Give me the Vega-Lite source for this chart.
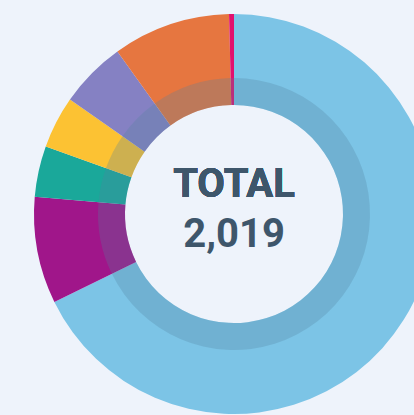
{
  "$schema": "https://vega.github.io/schema/vega-lite/v6.json",
  "width": 360,
  "height": 402,
  "autosize": "none",
  "padding": {"left": 54, "top": 13, "right": 0, "bottom": 0},
  "background": "#eef3fb",
  "config": {"view": {"stroke": null}},
  "data": {
    "values": [
      {"category": "A", "order": 1, "count": 1368},
      {"category": "B", "order": 2, "count": 174},
      {"category": "C", "order": 3, "count": 83},
      {"category": "D", "order": 4, "count": 85},
      {"category": "E", "order": 5, "count": 109},
      {"category": "F", "order": 6, "count": 192},
      {"category": "G", "order": 7, "count": 8}
    ]
  },
  "layer": [
    {
      "mark": {"type": "arc", "radius": 200, "radius2": 109},
      "encoding": {
        "theta": {"field": "count", "type": "quantitative", "stack": true},
        "order": {"field": "order", "type": "quantitative"},
        "color": {
          "field": "category",
          "type": "nominal",
          "legend": null,
          "scale": {
            "domain": ["A", "B", "C", "D", "E", "F", "G"],
            "range": ["#7cc4e6", "#a0168a", "#1aa89a", "#fcc233", "#8581c3", "#e67640", "#e2106e"]
          }
        }
      }
    },
    {
      "mark": {"type": "arc", "radius": 136, "radius2": 109, "color": "#52809f", "opacity": 0.28},
      "encoding": {
        "theta": {"field": "count", "type": "quantitative", "stack": true},
        "order": {"field": "order", "type": "quantitative"}
      }
    },
    {
      "mark": {"type": "text", "text": "TOTAL", "font": "Roboto, sans-serif", "fontWeight": "bold", "fontSize": 40, "color": "#3e566b", "baseline": "middle", "align": "center", "dy": -29},
      "encoding": {}
    },
    {
      "mark": {"type": "text", "font": "Roboto, sans-serif", "fontWeight": "bold", "fontSize": 40, "color": "#3e566b", "baseline": "middle", "align": "center", "dy": 21},
      "encoding": {
        "text": {"aggregate": "sum", "field": "count", "type": "quantitative", "format": ","}
      }
    }
  ]
}
